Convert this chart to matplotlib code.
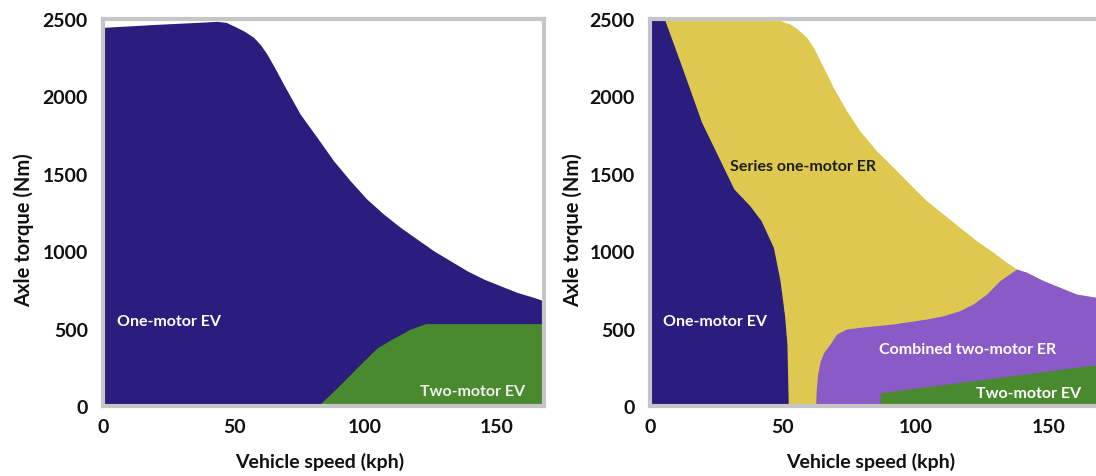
import matplotlib
matplotlib.use('Agg')
import matplotlib.pyplot as plt

plt.rcParams['font.family'] = ['Lato', 'DejaVu Sans']

# ---------------- data ----------------
x_ticks = [0, 50, 100, 150]
y_ticks = [0, 500, 1000, 1500, 2000, 2500]
x_label = 'Vehicle speed (kph)'
y_label = 'Axle torque (Nm)'

# Left chart: EV only
left_env_x = [0, 20, 37, 43.4, 47, 51, 54, 57.4, 60, 62.5, 65.5, 68.8, 75.2, 81.6, 87.9, 94.3, 100.6,
              107, 113.4, 119.7, 126.1, 132.4, 138.8, 145.2, 151.5, 157.9, 164.2, 168]
left_env_y = [2446, 2465, 2479, 2485, 2478, 2446, 2420, 2382, 2335, 2274, 2185, 2080, 1886, 1736, 1585,
              1455, 1337, 1240, 1154, 1079, 1003, 939, 874, 820, 777, 734, 702, 680]
left_green_x = [82, 90, 97, 104.5, 110, 117, 123, 168]
left_green_y = [0, 130, 250, 375, 430, 495, 532, 532]

# Right chart: with extended range
right_env_x = [0, 41.4, 48, 52.6, 55.5, 58.9, 61.5, 63.9, 66.5, 68.9, 73.9, 78.9, 85.2, 91.5, 97.7,
               104, 110.3, 116.5, 122.8, 129.1, 134.1, 137.9, 141.6, 147.9, 154.1, 160.4, 168.5]
right_env_y = [2500, 2500, 2495, 2468, 2435, 2382, 2315, 2231, 2145, 2059, 1908, 1778, 1649, 1542, 1434,
               1326, 1240, 1154, 1068, 993, 928, 885, 864, 810, 767, 723, 700]
purple_x = [62.3, 62.5, 63, 64, 65.5, 67.7, 70.2, 73.9, 78.9, 91.5, 104, 110.3, 116.5, 121.5,
            126.6, 131.6, 137.9, 141.6, 147.9, 154.1, 160.4, 168.5]
purple_y = [0, 100, 200, 290, 350, 400, 465, 497, 508, 530, 562, 583, 616, 659,
            723, 810, 885, 864, 810, 767, 723, 700]
blue_y = [0, 400, 585, 810, 1025, 1197, 1295, 1403, 1596, 1833, 2156, 2500]
blue_x = [52.0, 51.5, 50.6, 48.9, 46.4, 41.8, 37.5, 31.5, 26.1, 19.4, 12.7, 5.4]
right_green_x = [86.5, 86.5, 168.5]
right_green_y = [0, 85, 268]

C_BLUE = '#2b1d7e'
C_GREEN = '#4a8a2e'
C_YELLOW = '#dec84f'
C_PURPLE = '#8a5ac6'
C_FRAME = '#c6c6c6'

fig = plt.figure(figsize=(10.96, 4.77), dpi=100)
ax1 = fig.add_axes([103 / 1096, 70 / 477, 440.5 / 1096, 387 / 477])
ax2 = fig.add_axes([650 / 1096, 70 / 477, 448 / 1096, 387 / 477])

REG = 11.5

# Left
ax1.fill_between(left_env_x, 0, left_env_y, color=C_BLUE, lw=0)
ax1.fill_between(left_green_x, 0, left_green_y, color=C_GREEN, lw=0)
ax1.set_xlim(0, 168)
ax1.text(25, 547, 'One-motor EV', color='white', ha='center', va='center',
         fontsize=REG, fontweight='bold')
ax1.text(141, 97, 'Two-motor EV', color='#f0f0f0', ha='center', va='center',
         fontsize=REG, fontweight='bold')

# Right
ax2.fill_between(right_env_x, 0, right_env_y, color=C_YELLOW, lw=0)
ax2.fill_between(purple_x, 0, purple_y, color=C_PURPLE, lw=0)
ax2.fill_betweenx(blue_y, 0, blue_x, color=C_BLUE, lw=0)
ax2.fill_between(right_green_x, 0, right_green_y, color=C_GREEN, lw=0)
ax2.set_xlim(0, 168.5)
ax2.text(57.5, 1553, 'Series one-motor ER', color='#1e1e1e', ha='center', va='center',
         fontsize=REG, fontweight='bold')
ax2.text(24.5, 546, 'One-motor EV', color='white', ha='center', va='center',
         fontsize=REG, fontweight='bold')
ax2.text(119.5, 370, 'Combined two-motor ER', color='white', ha='center', va='center',
         fontsize=REG, fontweight='bold')
ax2.text(142.5, 82, 'Two-motor EV', color='white', ha='center', va='center',
         fontsize=REG, fontweight='bold')

for ax in (ax1, ax2):
    ax.set_ylim(0, 2500)
    ax.set_xticks(x_ticks)
    ax.set_xticklabels([str(t) for t in x_ticks])
    ax.set_yticks(y_ticks)
    ax.set_yticklabels([str(t) for t in y_ticks])
    ax.tick_params(length=0, labelsize=14)
    ax.tick_params(axis='y', pad=11)
    ax.tick_params(axis='x', pad=9)
    for lab in ax.get_xticklabels() + ax.get_yticklabels():
        lab.set_fontweight('bold')
        lab.set_color('#111111')
    for s in ax.spines.values():
        s.set_color(C_FRAME)
        s.set_linewidth(3)
    ax.set_facecolor('white')
    ax.text(0.493, -0.142, x_label, transform=ax.transAxes, ha='center', va='center',
            fontsize=14, fontweight='bold', color='#111111')

ax1.text(-0.180, 0.457, y_label, transform=ax1.transAxes, ha='center', va='center',
         rotation=90, fontsize=14.5, fontweight='bold', color='#111111')
ax2.text(-0.172, 0.457, y_label, transform=ax2.transAxes, ha='center', va='center',
         rotation=90, fontsize=14.5, fontweight='bold', color='#111111')
ax2.spines['right'].set_visible(False)

fig.savefig('out.png', dpi=100)
